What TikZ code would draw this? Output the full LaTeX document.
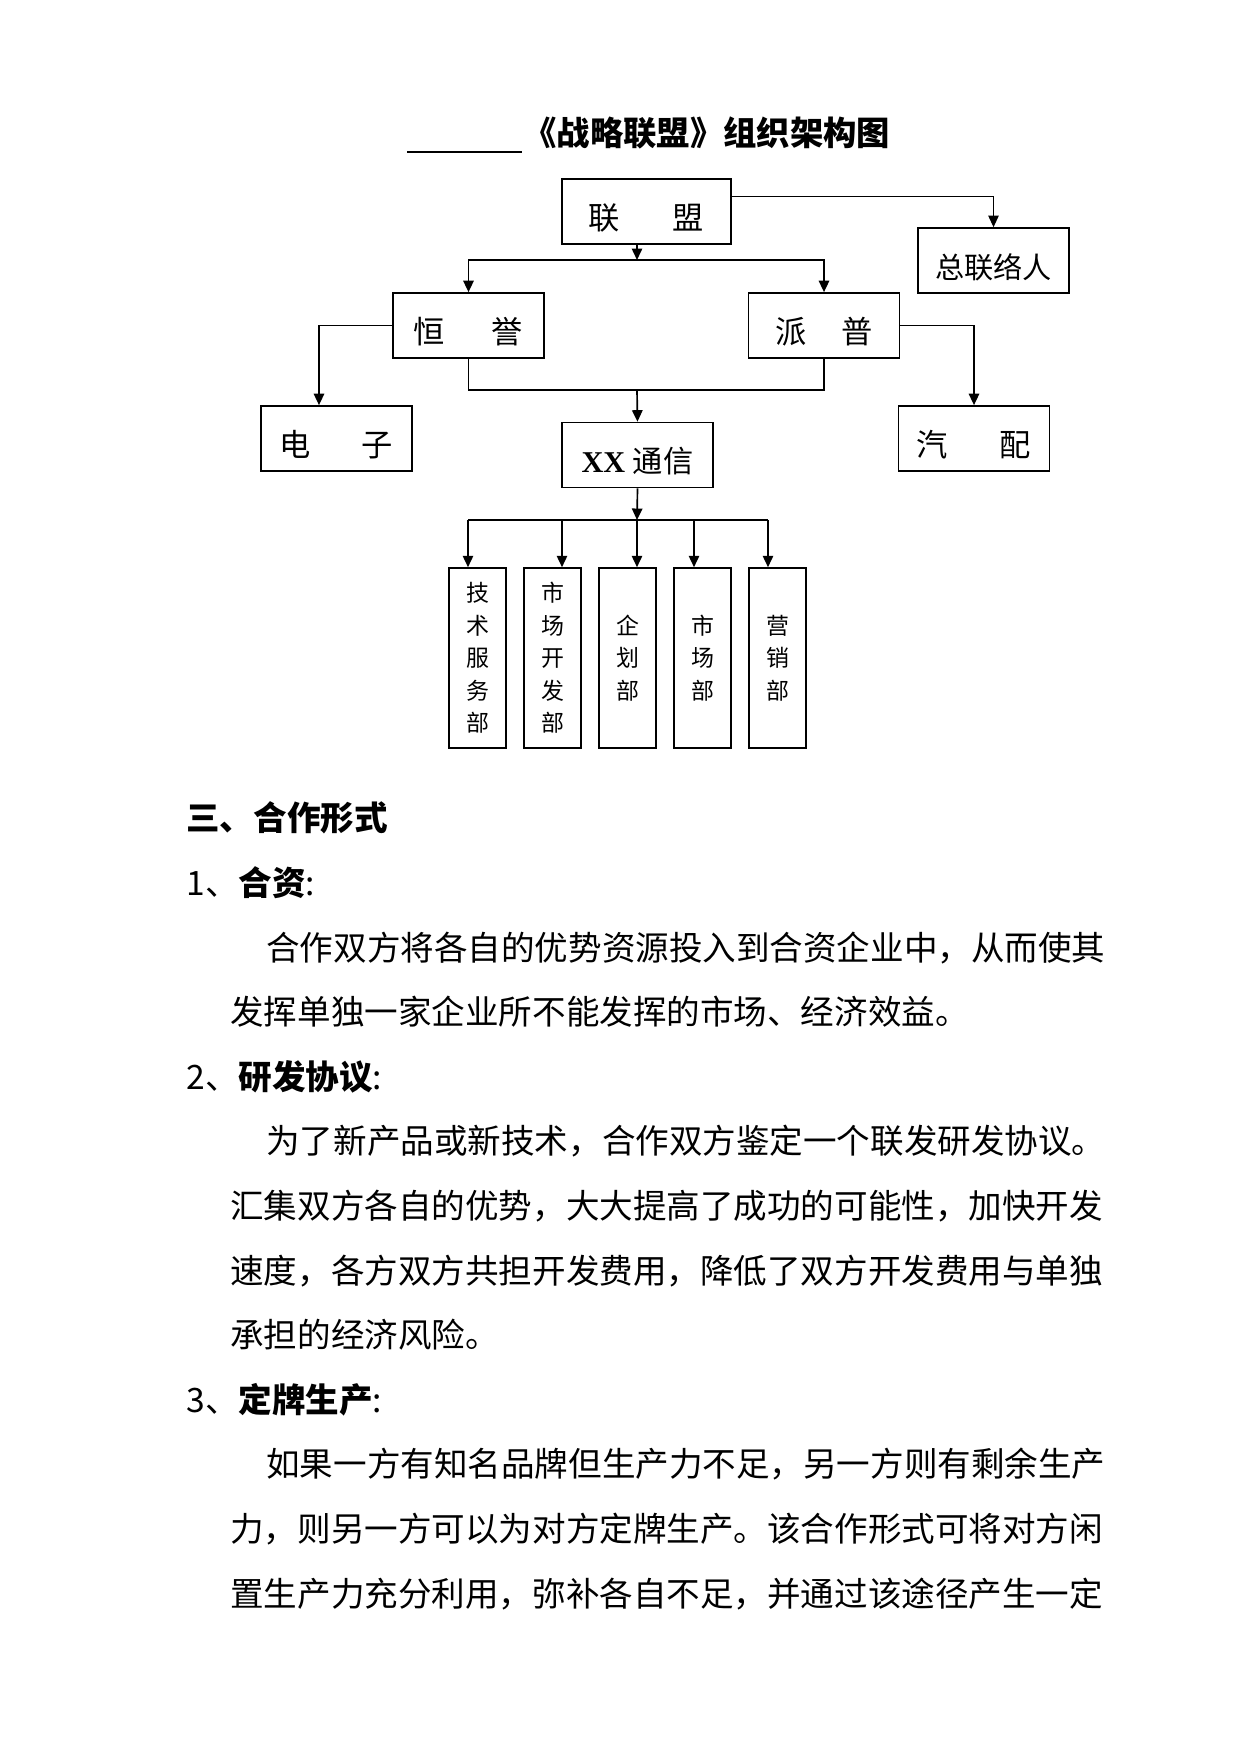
\documentclass[tikz,border=0pt]{standalone}
\usepackage{fontspec}
\setmainfont{Noto Sans CJK SC}
\newfontfamily\xxfont{Liberation Serif}
\usetikzlibrary{arrows.meta}
\usetikzlibrary{positioning}

\begin{document}
\begin{tikzpicture}[x=0.4797pt,y=-0.4797pt,
  box/.style={draw,line width=0.8pt,minimum width=72.4pt,minimum height=31.2pt,inner sep=0pt,
    text height=18pt,text depth=1pt,font=\fontsize{15pt}{18pt}\selectfont},
  dept/.style={draw,line width=0.8pt,minimum width=27.3pt,minimum height=86.3pt,inner sep=0pt,
    align=center,font=\fontsize{11pt}{15.6pt}\selectfont},
  arr/.style={line width=0.8pt,-{Triangle[length=5.5pt,width=5pt]}},
  link/.style={line width=0.5pt},
  body/.style={anchor=base west,inner sep=0pt,font=\fontsize{16.1pt}{19pt}\selectfont}]
\useasboundingbox (0,0) rectangle (1241,1754);

% title
\draw[line width=0.6pt] (407,152) -- (522,152);
\node[anchor=base west,inner sep=0pt,font=\fontsize{16pt}{19pt}\selectfont\bfseries] (T) at (523,146) {《战略联盟》组织架构图};

% chart boxes
\node[box,minimum width=81.1pt] (LM) at (646.5,211.5) {联\hspace{25.3pt}盟};
\node[box,font=\fontsize{14pt}{17pt}\selectfont] (ZL) at (993.5,260.5) {总联络人};
\node[box] (HY) at (468.5,325.5) {恒\hspace{22.4pt}誉};
\node[box] (PP) at (824,325.5) {派\hspace{16.6pt}普};
\node[box] (DZ) at (336.5,438.5) {电\hspace{24.3pt}子};
\node[box] (QP) at (974,438.5) {汽\hspace{24.8pt}配};
\node[box,font=\fontsize{14.5pt}{17pt}\selectfont] (XX) at (637.5,455) {{\xxfont\bfseries XX }通信};
\node[dept] (B1) at (477.5,658) {技\\术\\服\\务\\部};
\node[dept] (B2) at (552.5,658) {市\\场\\开\\发\\部};
\node[dept] (B3) at (627.5,658) {企\\划\\部};
\node[dept] (B4) at (702.5,658) {市\\场\\部};
\node[dept] (B5) at (777.5,658) {营\\销\\部};

% connectors
\draw[arr,line width=0.5pt] ([yshift=7.4pt]LM.east) -| (ZL.north);
\coordinate (H1) at (637,260);
\draw[arr] (H1 |- LM.south) -- (H1);
\draw[arr] (H1) -| (HY.north);
\draw[arr] (H1) -| (PP.north);
\draw[arr] (HY.west) -| ([xshift=-8.4pt]DZ.north);
\draw[arr] (PP.east) -| (QP.north);
\coordinate (H2) at (637,390);
\draw[link] (HY.south) |- (H2) -| (PP.south);
\draw[arr] (H2) -- (XX.north);
\coordinate (D1) at (468,520);
\coordinate (D2) at (562,520);
\coordinate (D3) at (637,520);
\coordinate (D4) at (694,520);
\coordinate (D5) at (768,520);
\draw[arr] (XX.south) -- (D3);
\draw[link] (D1) -- (D5);
\draw[arr] (D1) -- (D1 |- B1.north);
\draw[arr] (D2) -- (D2 |- B2.north);
\draw[arr] (D3) -- (D3 |- B3.north);
\draw[arr] (D4) -- (D4 |- B4.north);
\draw[arr] (D5) -- (D5 |- B5.north);

% text below the chart
\node[body,font=\fontsize{16.1pt}{19pt}\selectfont\bfseries] (S3) at (186,830.8) {三、合作形式};
\node[body] (S31) at (186,895.4) {1、\textbf{合资}:};
\node[body] (P1a) at (266,960) {合作双方将各自的优势资源投入到合资企业中，从而使其};
\node[body] (P1b) at (230,1024.6) {发挥单独一家企业所不能发挥的市场、经济效益。};
\node[body] (S32) at (186,1089.2) {2、\textbf{研发协议}:};
\node[body] (P2a) at (266,1153.8) {为了新产品或新技术，合作双方鉴定一个联发研发协议。};
\node[body] (P2b) at (230,1218.4) {汇集双方各自的优势，大大提高了成功的可能性，加快开发};
\node[body] (P2c) at (230,1283) {速度，各方双方共担开发费用，降低了双方开发费用与单独};
\node[body] (P2d) at (230,1347.6) {承担的经济风险。};
\node[body] (S33) at (186,1412.2) {3、\textbf{定牌生产}:};
\node[body] (P3a) at (266,1476.8) {如果一方有知名品牌但生产力不足，另一方则有剩余生产};
\node[body] (P3b) at (230,1541.4) {力，则另一方可以为对方定牌生产。该合作形式可将对方闲};
\node[body] (P3c) at (230,1606) {置生产力充分利用，弥补各自不足，并通过该途径产生一定};
\end{tikzpicture}
\end{document}
